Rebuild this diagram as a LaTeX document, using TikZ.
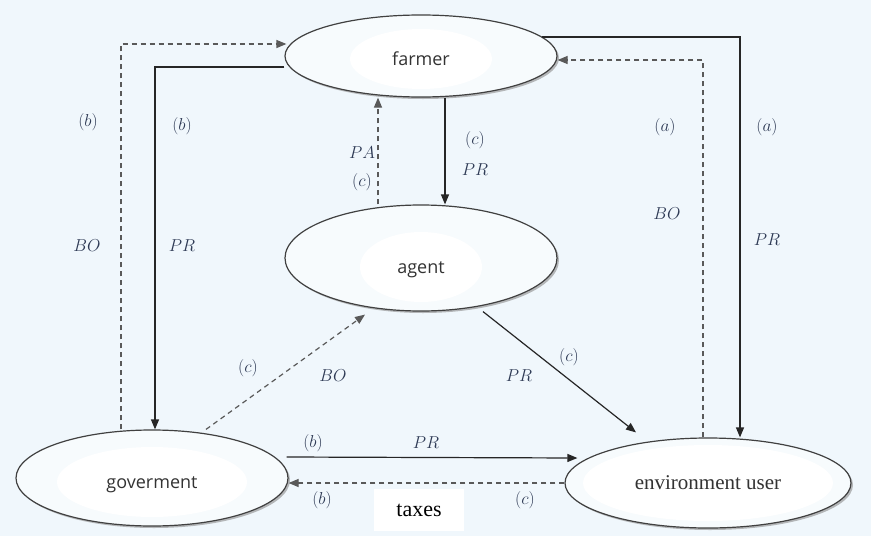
\documentclass[tikz,border=0pt]{standalone}
\usepackage{fontspec}
\setmainfont{Liberation Serif}
\newfontfamily\ovalfont{Open Sans}
\usetikzlibrary{arrows.meta, shapes.geometric, shadows}
\definecolor{paper}{HTML}{F0F7FC}
\definecolor{ovalfill}{HTML}{F7FBFD}
\definecolor{lblcol}{HTML}{2E3A55}

\begin{document}
\begin{tikzpicture}[
  x=1pt, y=-1pt,
  >={Triangle[length=10pt,width=8pt]},
  oval/.style n args={5}{ellipse, draw=black!75, line width=1.2pt, fill=ovalfill, minimum width=#1, minimum height=#2, inner sep=0pt,
    drop shadow={shadow xshift=2pt, shadow yshift=-2pt, fill=black!45, opacity=0.6},
    path picture={\fill[white] ([yshift=-#5]path picture bounding box.center) ellipse [x radius=#3, y radius=#4];},
    text height={12pt+2*#5}, text depth=0pt,
    font=\ovalfont\fontsize{18}{20}\selectfont, text=black!80},
  flow/.style={->, line width=1.2pt, draw=black!85},
  back/.style={->, line width=1.2pt, draw=black!65, dash pattern=on 5pt off 4pt},
  lbl/.style={font=\fontsize{18}{20}\selectfont, text=lblcol}
]
\fill[paper] (0,0) rectangle (871,536);
\useasboundingbox (0,0) rectangle (871,536);

% actors
\node[oval={272pt}{82pt}{71pt}{30pt}{3pt}] (farmer) at (421,56) {farmer};
\node[oval={272pt}{106pt}{61pt}{35pt}{9pt}] (agent) at (421,258) {agent};
\node[oval={272pt}{96pt}{95pt}{35pt}{4pt}] (gov) at (152,478) {goverment};
\node[oval={286pt}{90pt}{125pt}{38pt}{0pt}, font=\rmfamily\fontsize{21}{23}\selectfont, text height=, text depth=] (env) at (708,483) {environment user};

% flows
\draw[back] ([xshift=-31pt]gov.north) |- ([xshift=2pt,yshift=12pt]farmer.west);
\draw[flow] ([yshift=-11pt]farmer.west) -| ([xshift=3pt]gov.north);
\draw[flow] ([xshift=-16pt,yshift=19pt]farmer.east) -| ([xshift=32pt]env.north);
\draw[back] ([xshift=-5pt]env.north) |- ([yshift=-4pt]farmer.east);
\draw[flow] ([xshift=24pt]farmer.south) -- ([xshift=24pt]agent.north);
\draw[back] ([xshift=-43pt]agent.north) -- ([xshift=-43pt]farmer.south);
\draw[back] ([xshift=54pt]gov.north) -- ([xshift=-56pt,yshift=-3pt]agent.south);
\draw[flow] ([xshift=62pt]agent.south) -- ([xshift=-72pt,yshift=5pt]env.north);
\draw[flow] ([xshift=-2pt,yshift=21pt]gov.east) -- ([xshift=13pt,yshift=25pt]env.west);
\draw[back] (env.west) -- (env.west -| gov.east);

% labels
\node[lbl] (bGovBack) at (88,122) {$(b)$};
\node[lbl] (boGovBack) at (87,246) {$BO$};
\node[lbl] (bGovIn) at (182,126) {$(b)$};
\node[lbl] (prGovIn) at (182,246) {$PR$};
\node[lbl] (aEnvBack) at (665,127) {$(a)$};
\node[lbl] (boEnvBack) at (667,214) {$BO$};
\node[lbl] (aEnvIn) at (767,127) {$(a)$};
\node[lbl] (prEnvIn) at (767,240) {$PR$};
\node[lbl] (cAgentIn) at (475,140) {$(c)$};
\node[lbl] (prAgentIn) at (475,170) {$PR$};
\node[lbl] (paAgentBack) at (362,153) {$PA$};
\node[lbl] (cAgentBack) at (362,182) {$(c)$};
\node[lbl] (cGovAgent) at (248,368) {$(c)$};
\node[lbl] (boGovAgent) at (333,376) {$BO$};
\node[lbl] (prAgentEnv) at (519,376) {$PR$};
\node[lbl] (cAgentEnv) at (569,357) {$(c)$};
\node[lbl] (bGovEnv) at (313,443) {$(b)$};
\node[lbl] (prGovEnv) at (426,443) {$PR$};
\node[lbl] (bEnvGov) at (322,500) {$(b)$};
\node[lbl] (cEnvGov) at (525,500) {$(c)$};
\node[fill=white, inner sep=0pt, minimum width=90pt, minimum height=42pt, font=\rmfamily\fontsize{22}{24}\selectfont] (taxes) at (419,510) {taxes};
\end{tikzpicture}
\end{document}
